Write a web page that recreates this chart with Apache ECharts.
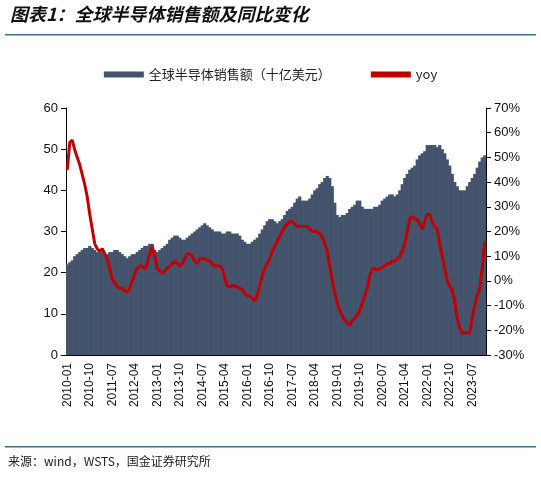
<!DOCTYPE html>
<html>
<head>
<meta charset="utf-8">
<script src="https://cdn.jsdelivr.net/npm/echarts@6/dist/echarts.min.js"></script>
<style>html,body{margin:0;padding:0;background:#fff}#main{width:541px;height:478px}</style>
</head>
<body>
<div id="main"></div>
<script>
//月份
var months = [];
for (var y = 2010; y <= 2023; y++) {
    for (var m = 1; m <= 12; m++) {
        months.push(y + '-' + (m < 10 ? '0' + m : m));
    }
}
//全球半导体销售额（十亿美元）
var sales = [
    22,22.5,23,24,24.5,25,25.5,26,26,26.5,26,25.5,
    25,25.5,25,24.5,24.5,25,25,25.5,25.5,25,24.5,24,
    23.5,24,24.5,24.5,25,25.5,26,26.5,26.5,27,27,25.5,
    25,25.5,26,26.5,27,28,28.5,29,29,28.5,28,28,
    28.5,29,29.5,30,30.5,31,31.5,32,31.5,31,30.5,30,
    30,30,29.5,29.5,30,30,29.5,29.5,29.5,29,28,27.5,
    27,27,27.5,28,28.5,29.5,30.5,31.5,32.5,33,33,32.5,
    32,32.5,33,34,35,35.5,36,37,38,38.5,37.5,37.5,
    37.5,38,39,40,40.5,41.5,42,43,43.5,43,41,37,
    34,33.5,34,34,34.5,35.5,36,36.5,37.5,37.5,36,35.5,
    35.5,35.5,35.5,36,36,36.5,37.5,38,38.5,39,39,38.5,
    39,40,41.5,43,44,45,45.5,46,47.5,48.5,49,49.5,
    51,51,51,51,50.5,51,50,49,47.5,46,44,42,
    41,40,40,40,41,42,43,44,45.5,47,48,48.5
];
//同比（%）
var yoy = [
    45,56,57,53,50,47,43,39,34,27,21,15,
    13,12,13,11,9,5,1,-1,-2,-3,-3,-4,
    -4.5,-3,0,3,5,6,6,5,7,11,14,10,
    5,4,3,4,5,6,7,8,7,6,7,9,
    11,11,10,8,7,9,9,9,8.5,8,7,6,
    6,6,5,1,-2,-2.5,-2,-2,-2.5,-3,-3.5,-5,
    -6,-6,-7,-8,-6,-2,2,5,7,9,12,14,
    16,18,20,22,23,24,24,23,22,22,22,22,
    22,21,20,20,20,19,18,15,12,6,0,-5,
    -9,-12,-14,-16,-17,-18,-16,-15,-14,-12,-9,-6,
    -3,2,5,5,4.5,5,5.5,6,7,7,8,8,
    9,10,12,15,20,25,26,25,25,23,21,24,
    27,27,24,22,21,15,10,5,0,-2,-4,-8,
    -15,-19,-21,-21,-21,-21,-15,-10,-6,-3,5,16
];

var chart = echarts.init(document.getElementById('main'));
var font = '"Noto Sans CJK SC", Arial, sans-serif';
var option = {
    animation: false,
    textStyle: {fontFamily: font},
    graphic: [
        {type: 'text', left: 10, top: 5, style: {text: '图表1：全球半导体销售额及同比变化', font: 'italic bold 18px ' + font, fill: '#111'}},
        {type: 'rect', shape: {x: 5, y: 34, width: 531, height: 1.5}, style: {fill: '#3d6f8e'}},
        {type: 'rect', shape: {x: 5, y: 446, width: 531, height: 1.5}, style: {fill: '#3d6f8e'}},
        {type: 'text', left: 8, top: 455, style: {text: '来源：wind，WSTS，国金证券研究所', font: '12px ' + font, fill: '#222'}}
    ],
    legend: {
        top: 63, left: 'center', itemGap: 40, itemWidth: 40, itemHeight: 6,
        textStyle: {fontSize: 13, color: '#222'},
        data: [{name: '全球半导体销售额（十亿美元）', icon: 'rect'}, {name: 'yoy', icon: 'rect'}]
    },
    grid: {left: 66, right: 55, top: 108, bottom: 123},
    xAxis: {
        type: 'category', data: months, boundaryGap: true,
        axisLine: {lineStyle: {color: '#000'}},
        axisTick: {interval: 8, lineStyle: {color: '#000'}},
        axisLabel: {interval: 8, rotate: 90, color: '#111', fontSize: 12, fontFamily: 'Arial'}
    },
    yAxis: [
        {type: 'value', min: 0, max: 60, interval: 10, splitLine: {show: false},
         axisLine: {show: true, lineStyle: {color: '#000'}}, axisTick: {show: true},
         axisLabel: {color: '#111', fontSize: 13, fontFamily: 'Arial'}},
        {type: 'value', min: -30, max: 70, interval: 10, splitLine: {show: false},
         axisLine: {show: true, lineStyle: {color: '#000'}}, axisTick: {show: true},
         axisLabel: {color: '#111', fontSize: 13, fontFamily: 'Arial', formatter: '{value}%'}}
    ],
    series: [
        {name: '全球半导体销售额（十亿美元）', type: 'bar', data: sales, barWidth: 3.2,
         itemStyle: {color: '#44536c', borderWidth: 0}},
        {name: 'yoy', type: 'line', yAxisIndex: 1, data: yoy, symbol: 'none', smooth: false,
         lineStyle: {color: '#c00000', width: 3}, itemStyle: {color: '#c00000'}}
    ]
};
chart.setOption(option);
</script>
</body>
</html>
